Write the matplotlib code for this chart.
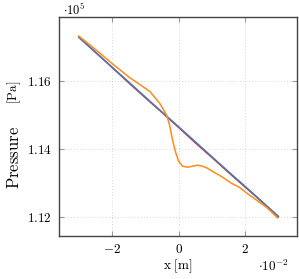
import matplotlib
matplotlib.use("Agg")
import matplotlib.pyplot as plt
from matplotlib.ticker import FuncFormatter

plt.rcParams['mathtext.fontset'] = 'cm'
plt.rcParams['font.family'] = 'serif'
plt.rcParams['font.serif'] = ['cmr10', 'DejaVu Serif']
plt.rcParams['axes.formatter.use_mathtext'] = True

# x in units of 1e-2 m, pressure in units of 1e5 Pa
x_blue = [-3.0, -2.5, -2.0, -1.5, -1.0, -0.5, 0.0, 0.5, 1.0, 1.5, 2.0, 2.5, 3.0]
p_blue = [1.1728, 1.1684, 1.1641, 1.1597, 1.1553, 1.1509, 1.1466, 1.1422,
          1.1378, 1.1334, 1.1291, 1.1247, 1.1203]
x_red = [-3.0, -2.5, -2.0, -1.5, -1.0, -0.5, 0.0, 0.5, 1.0, 1.5, 2.0, 2.5, 3.0]
p_red = [1.1730, 1.1685, 1.1640, 1.1595, 1.1551, 1.1508, 1.1464, 1.1419,
         1.1376, 1.1332, 1.1289, 1.1246, 1.1202]
x_orange = [-3.0, -2.53, -1.98, -1.47, -0.87, -0.57, -0.36, -0.27, -0.18, -0.09,
            0.0, 0.12, 0.27, 0.42, 0.57, 0.72, 0.87, 1.02, 1.32, 1.59, 1.83,
            2.05, 2.35, 2.65, 2.98]
p_orange = [1.1732, 1.1695, 1.1650, 1.1610, 1.1570, 1.1535, 1.1500, 1.1471,
            1.1426, 1.1391, 1.1365, 1.1350, 1.1347, 1.1350, 1.1353, 1.1350,
            1.1344, 1.1335, 1.1318, 1.1300, 1.1288, 1.1271, 1.1250, 1.1229,
            1.1198]

xticks = [-2, 0, 2]
yticks = [1.12, 1.14, 1.16]

fig = plt.figure(figsize=(2.99, 2.79), dpi=100)
ax = fig.add_axes([0.197, 0.154, 0.796, 0.785])

ax.plot(x_red, p_red, color='#d9302c', lw=1.1)
ax.plot(x_blue, p_blue, color='#4a78b8', lw=1.1)
ax.plot(x_orange, p_orange, color='#ff8c1a', lw=1.1)

ax.set_xlim(-3.6, 3.56)
ax.set_ylim(1.1145, 1.1788)
ax.set_xticks(xticks)
ax.set_yticks(yticks)
ax.xaxis.set_major_formatter(FuncFormatter(lambda v, p: r'$%g$' % v))
ax.yaxis.set_major_formatter(FuncFormatter(lambda v, p: r'$%.2f$' % v))
ax.tick_params(direction='in', length=3.5, width=0.8, color='#999999',
               top=True, right=True, labelsize=9.5, pad=5)
ax.grid(True, linestyle=(0, (1, 2.5)), color='#cccccc', lw=0.6)
for s in ax.spines.values():
    s.set_color('#444444')
    s.set_linewidth(1.0)

fig.text(178 / 299, 1 - 266 / 279, r'$\mathrm{x\ [m]}$', ha='center', va='center', fontsize=9.5)
fig.text(273 / 299, 1 - 266 / 279, r'$\cdot 10^{-2}$', ha='center', va='center', fontsize=9.5)
fig.text(74 / 299, 1 - 2 / 279, r'$\cdot 10^{5}$', ha='center', va='top', fontsize=9)
fig.text(14 / 299, 1 - 157 / 279, r'$\mathrm{Pressure}$', ha='center', va='center',
         rotation=90, fontsize=12)
fig.text(14 / 299, 1 - 92 / 279, r'$\mathrm{[Pa]}$', ha='center', va='center',
         rotation=90, fontsize=9.5)

fig.savefig('out.png', dpi=100)
